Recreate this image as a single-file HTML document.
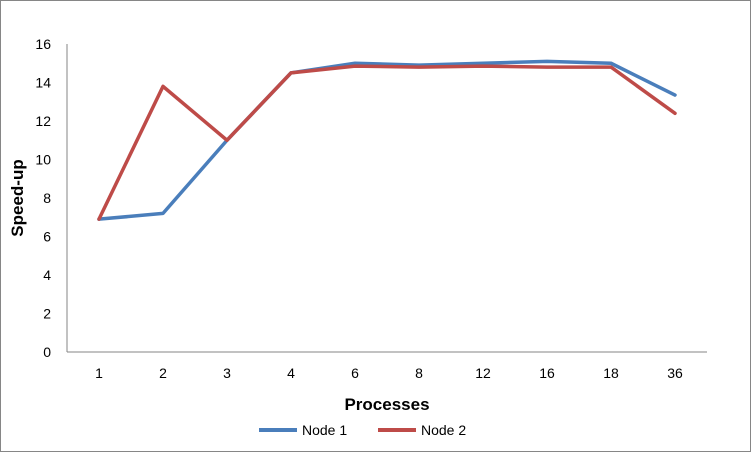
<!DOCTYPE html>
<html><head><meta charset="utf-8"><style>
body{margin:0;background:#fff}
svg{display:block;font-family:"Liberation Sans",sans-serif}
</style></head><body>
<svg id="chart" width="751" height="452">
<rect x="0.5" y="0.5" width="750" height="451" fill="#fff" stroke="#868686"/>
<g id="grid"></g>
<line x1="67" y1="44" x2="67" y2="352" stroke="#868686"/>
<line x1="67" y1="352" x2="707" y2="352" stroke="#868686"/>
<g id="yticks" font-size="14" fill="#000" text-anchor="end"></g>
<g id="xticks" font-size="14" fill="#000" text-anchor="middle"></g>
<g id="series"></g>
<text x="23" y="198" font-size="17" font-weight="bold" text-anchor="middle" transform="rotate(-90 23 198)">Speed-up</text>
<text x="387" y="410" font-size="17" font-weight="bold" text-anchor="middle">Processes</text>
<g>
<g>
<line x1="259" y1="430" x2="297" y2="430" stroke="#4a7ebb" stroke-width="4"/>
<text x="302" y="435" font-size="14">Node 1</text></g>
<g>
<line x1="378" y1="430" x2="416" y2="430" stroke="#be4b48" stroke-width="4"/>
<text x="421" y="435" font-size="14">Node 2</text></g>
</g>
</svg>
<script>
const categories=["1","2","3","4","6","8","12","16","18","36"];
const node1=[6.9,7.2,11.0,14.5,15.0,14.9,15.0,15.1,15.0,13.35];
const node2=[6.9,13.8,11.0,14.5,14.85,14.8,14.85,14.8,14.8,12.4];
const yTicks=[0,2,4,6,8,10,12,14,16];
const NS="http://www.w3.org/2000/svg";
const x0=67,x1=707,yb=352,yt=44,ymax=16;
const bw=(x1-x0)/categories.length;
function xs(i){return x0+bw*(i+0.5);}
function ys(v){return yb-(v/ymax)*(yb-yt);}
const yg=document.getElementById('yticks');
yTicks.forEach(v=>{const t=document.createElementNS(NS,'text');
t.setAttribute('x',51);t.setAttribute('y',ys(v)+5);t.textContent=v;


yg.appendChild(t);});
const xg=document.getElementById('xticks');
categories.forEach((c,i)=>{const t=document.createElementNS(NS,'text');
t.setAttribute('x',xs(i));t.setAttribute('y',378);t.textContent=c;


xg.appendChild(t);});
const sg=document.getElementById('series');
[[node1,'#4a7ebb','node-1-line'],[node2,'#be4b48','node-2-line']].forEach(s=>{
const p=document.createElementNS(NS,'polyline');
p.setAttribute('points',s[0].map((v,i)=>xs(i)+','+ys(v)).join(' '));
p.setAttribute('fill','none');p.setAttribute('stroke',s[1]);p.setAttribute('stroke-width','3.5');
p.setAttribute('stroke-linejoin','round');p.setAttribute('stroke-linecap','round');


sg.appendChild(p);});
</script>
</body></html>
